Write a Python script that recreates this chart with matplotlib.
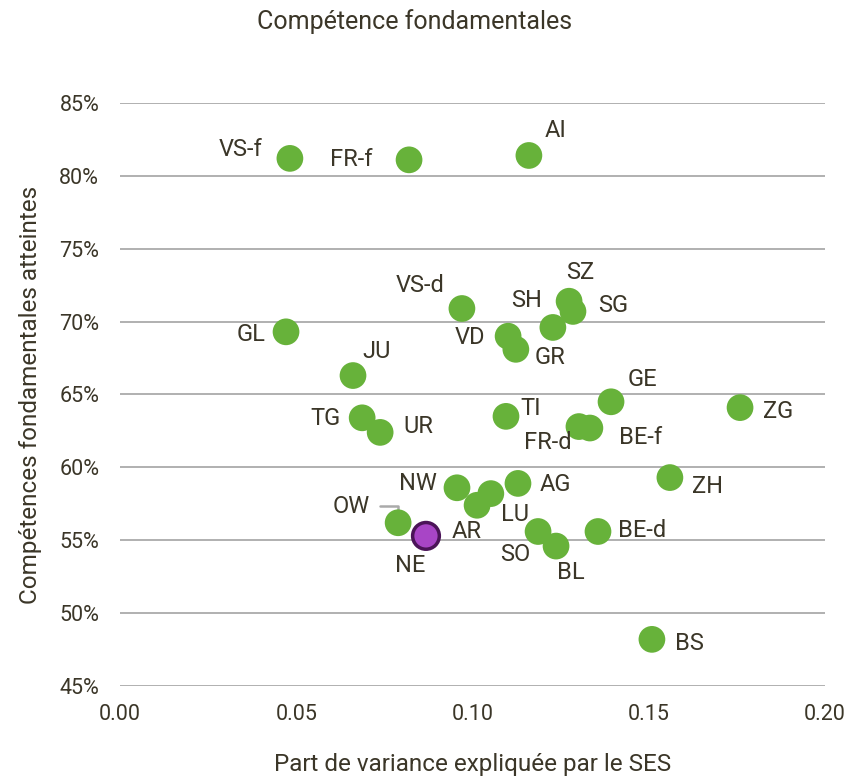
import matplotlib
matplotlib.use('Agg')
from matplotlib import pyplot as plt
from matplotlib.ticker import FuncFormatter

# Cantons, part de variance SES (x) and competences atteintes (y, %)
cantons = ['VS-f', 'FR-f', 'AI', 'VS-d', 'SZ', 'SG', 'SH', 'VD', 'GR', 'GL',
           'JU', 'GE', 'ZG', 'TG', 'UR', 'TI', 'FR-d', 'BE-f', 'ZH', 'NW',
           'AG', 'AR', 'LU', 'OW', 'NE', 'SO', 'BL', 'BE-d', 'BS']
ses_share = [0.0482, 0.0820, 0.1160, 0.0970, 0.1274, 0.1285, 0.1228, 0.1101,
             0.1123, 0.0471, 0.0661, 0.1393, 0.1759, 0.0687, 0.0738, 0.1095,
             0.1302, 0.1333, 0.1560, 0.0956, 0.1129, 0.1013, 0.1052, 0.0789,
             0.0868, 0.1186, 0.1237, 0.1356, 0.1509]
competence = [81.2, 81.1, 81.4, 70.9, 71.4, 70.7, 69.6, 69.0, 68.1, 69.3,
              66.3, 64.5, 64.1, 63.4, 62.4, 63.5, 62.8, 62.7, 59.3, 58.6,
              58.9, 57.4, 58.2, 56.2, 55.3, 55.6, 54.6, 55.6, 48.2]
highlight = 'NE'

# label offsets in pixels (dx, dy with y going down)
label_offsets = {
    'VS-f': (-49, -9), 'FR-f': (-58, 0), 'AI': (27, -25), 'VS-d': (-42, -23),
    'SZ': (11, -29), 'SG': (40, -6), 'SH': (-26, -27), 'VD': (-38, 1),
    'GR': (34, 8), 'GL': (-35, 3), 'JU': (24, -24), 'GE': (31, -22),
    'ZG': (38, 4), 'TG': (-37, 1), 'UR': (38, -6), 'TI': (25, -8),
    'FR-d': (-31, 16), 'BE-f': (51, 9), 'ZH': (38, 9), 'NW': (-39, -4),
    'AG': (37, 1), 'AR': (-10, 26), 'LU': (24, 21), 'OW': (-47, -16),
    'NE': (-16, 30), 'SO': (-23, 23), 'BL': (15, 26), 'BE-d': (44, -1),
    'BS': (38, 4),
}

plt.rcParams['font.family'] = ['Roboto', 'DejaVu Sans']
text_col = '#3b3628'
green = '#67b23a'

fig = plt.figure(figsize=(8.5, 7.76), dpi=100)
ax = fig.add_axes([120 / 850, 1 - 686 / 776, 705 / 850, 583 / 776])
ax.set_xlim(0, 0.20)
ax.set_ylim(45, 85)
ax.set_xticks([0, 0.05, 0.10, 0.15, 0.20])
ax.set_yticks(range(45, 86, 5))
ax.xaxis.set_major_formatter(FuncFormatter(lambda v, p: '%.2f' % v))
ax.yaxis.set_major_formatter(FuncFormatter(lambda v, p: '%d%%' % v))
ax.grid(axis='y', color='#aaaaaa', lw=1.3)
ax.set_axisbelow(True)
for s in ax.spines.values():
    s.set_visible(False)
ax.tick_params(length=0, labelsize=15.5, colors=text_col)
ax.tick_params(axis='y', pad=15)
ax.tick_params(axis='x', pad=13)

cols = ['#a845c6' if c == highlight else green for c in cantons]
edges = ['#4b1458' if c == highlight else 'none' for c in cantons]
lws = [2.5 if c == highlight else 0 for c in cantons]
ax.scatter(ses_share, competence, s=370, c=cols, edgecolors=edges,
           linewidths=lws, zorder=3)

for name, x, y in zip(cantons, ses_share, competence):
    dx, dy = label_offsets[name]
    ax.annotate(name, (x, y), xytext=(dx * 0.72, -dy * 0.72),
                textcoords='offset points', ha='center', va='center',
                fontsize=17, color=text_col, zorder=4)

# leader line for OW
i = cantons.index('OW')
ax.annotate('', (ses_share[i], competence[i]), xytext=(-13, 12),
            textcoords='offset points',
            arrowprops=dict(arrowstyle='-', color='#aaaaaa', lw=1.8,
                            connectionstyle='angle,angleA=0,angleB=90,rad=0',
                            shrinkA=0, shrinkB=1),
            zorder=2)

ax.set_xlabel('Part de variance expliquée par le SES', fontsize=17.5,
              color=text_col, labelpad=20)
ax.set_ylabel('Compétences fondamentales atteintes', fontsize=17.5,
              color=text_col, labelpad=12)
fig.text(415 / 850, 1 - 22 / 776, 'Compétence fondamentales', ha='center',
         va='center', fontsize=18, color=text_col)

fig.savefig('out.png', dpi=100)
